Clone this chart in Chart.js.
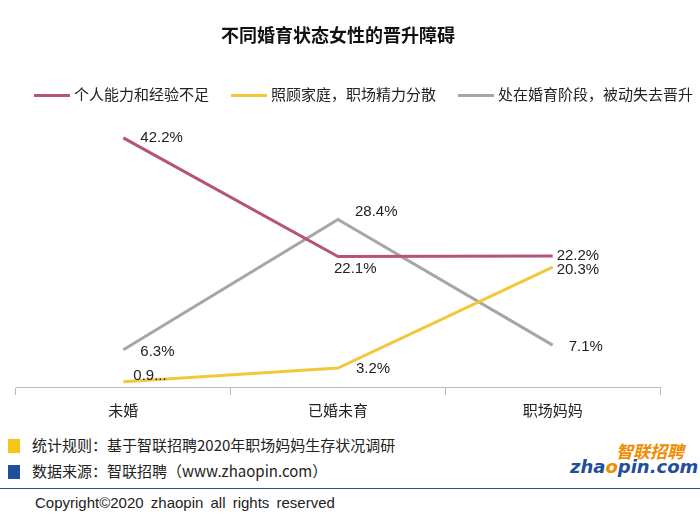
<!DOCTYPE html>
<html><head><meta charset="utf-8">
<script src="https://cdn.jsdelivr.net/npm/chart.js@4"></script>
<style>
body{margin:0;width:700px;height:523px;background:#fff;font-family:"Noto Sans CJK SC","Noto Sans",sans-serif;position:relative;overflow:hidden}
#wrap{position:absolute;left:0;top:0;width:700px;height:425px}
.f{position:absolute;font-size:15px;color:#222}
.sq{position:absolute;width:12px;height:14px}
#leg{position:absolute;left:34px;top:83px;font-size:15px;color:#222;white-space:nowrap}
#leg span.l{display:inline-block;width:36px;height:3px;vertical-align:middle;margin-right:4px}
#leg .it{display:inline-block;margin-right:22px}
</style></head><body>
<div id="wrap"><canvas id="c"></canvas></div>
<div id="leg"></div>
<div class="sq" style="left:8px;top:439px;background:#f5c518"></div>
<div class="f" style="left:32px;top:434px">统计规则：基于智联招聘2020年职场妈妈生存状况调研</div>
<div class="sq" style="left:8px;top:465px;background:#1f4e9c"></div>
<div class="f" style="left:32px;top:460px">数据来源：智联招聘（www.zhaopin.com）</div>
<div style="position:absolute;left:616px;top:438px;font-size:17px;font-weight:bold;color:#f08c00;font-style:italic">智联招聘</div>
<div style="position:absolute;left:570px;top:456px;font-size:18px;font-weight:bold;color:#1f4e9c;font-style:italic;font-family:'DejaVu Sans'">zha<span style="color:#f08c00">o</span>pin.com</div>
<div style="position:absolute;left:0;top:488px;width:700px;border-top:1px solid #1f4e9c"></div>
<div class="f" style="left:35px;top:494px;font-family:'Liberation Sans';font-size:15px;word-spacing:3px">Copyright©2020  zhaopin all rights  reserved</div>
<script>
const categories=["未婚","已婚未育","职场妈妈"];
const s1=[42.2,22.1,22.2];
const s2=[0.9,3.2,20.3];
const s3=[6.3,28.4,7.1];
const names=["个人能力和经验不足","照顾家庭，职场精力分散","处在婚育阶段，被动失去晋升"];
const colors=['#b5537c','#f2c83a','#a6a6a6'];
document.getElementById('leg').innerHTML=names.map((n,i)=>`<span class="it"><span class="l" style="background:${colors[i]}"></span>${n}</span>`).join('');
const labelPos=[[[17,0],[-4,12],[4,0]],[[10,-6],[18,1],[4,3]],[[17,2],[17,-8],[16,2]]];
const lbl={id:'lbl',afterDatasetsDraw(ch){const c=ch.ctx;c.save();c.font='15px "Liberation Sans",Arial';c.fillStyle='#222';c.textBaseline='middle';
ch.data.datasets.forEach((d,i)=>{ch.getDatasetMeta(i).data.forEach((p,j)=>{let t=d.data[j]+'%';if(i==1&&j==0)t='0.9...';const o=labelPos[i][j];c.fillText(t,p.x+o[0],p.y+o[1]);});});c.restore();}};
new Chart(document.getElementById('c'),{type:'line',
data:{labels:categories,datasets:names.map((n,i)=>({label:n,data:[s1,s2,s3][i],borderColor:colors[i],backgroundColor:colors[i],borderWidth:3,pointRadius:0}))},
options:{responsive:true,maintainAspectRatio:false,animation:false,
layout:{padding:{left:16,right:40,top:10}},
plugins:{title:{display:true,text:'不同婚育状态女性的晋升障碍',color:'#111',font:{size:18,weight:'bold',family:'"Noto Sans CJK SC"'},padding:{top:14,bottom:64}},
legend:{display:false},tooltip:{enabled:false}},
scales:{y:{display:false,min:0,max:47},
x:{offset:true,grid:{display:true,offset:true,drawOnChartArea:false,tickLength:8,color:'#bbb'},border:{color:'#bbb'},ticks:{color:'#222',font:{size:15,family:'"Noto Sans CJK SC"'},padding:6}}}},
plugins:[lbl]});
</script></body></html>
